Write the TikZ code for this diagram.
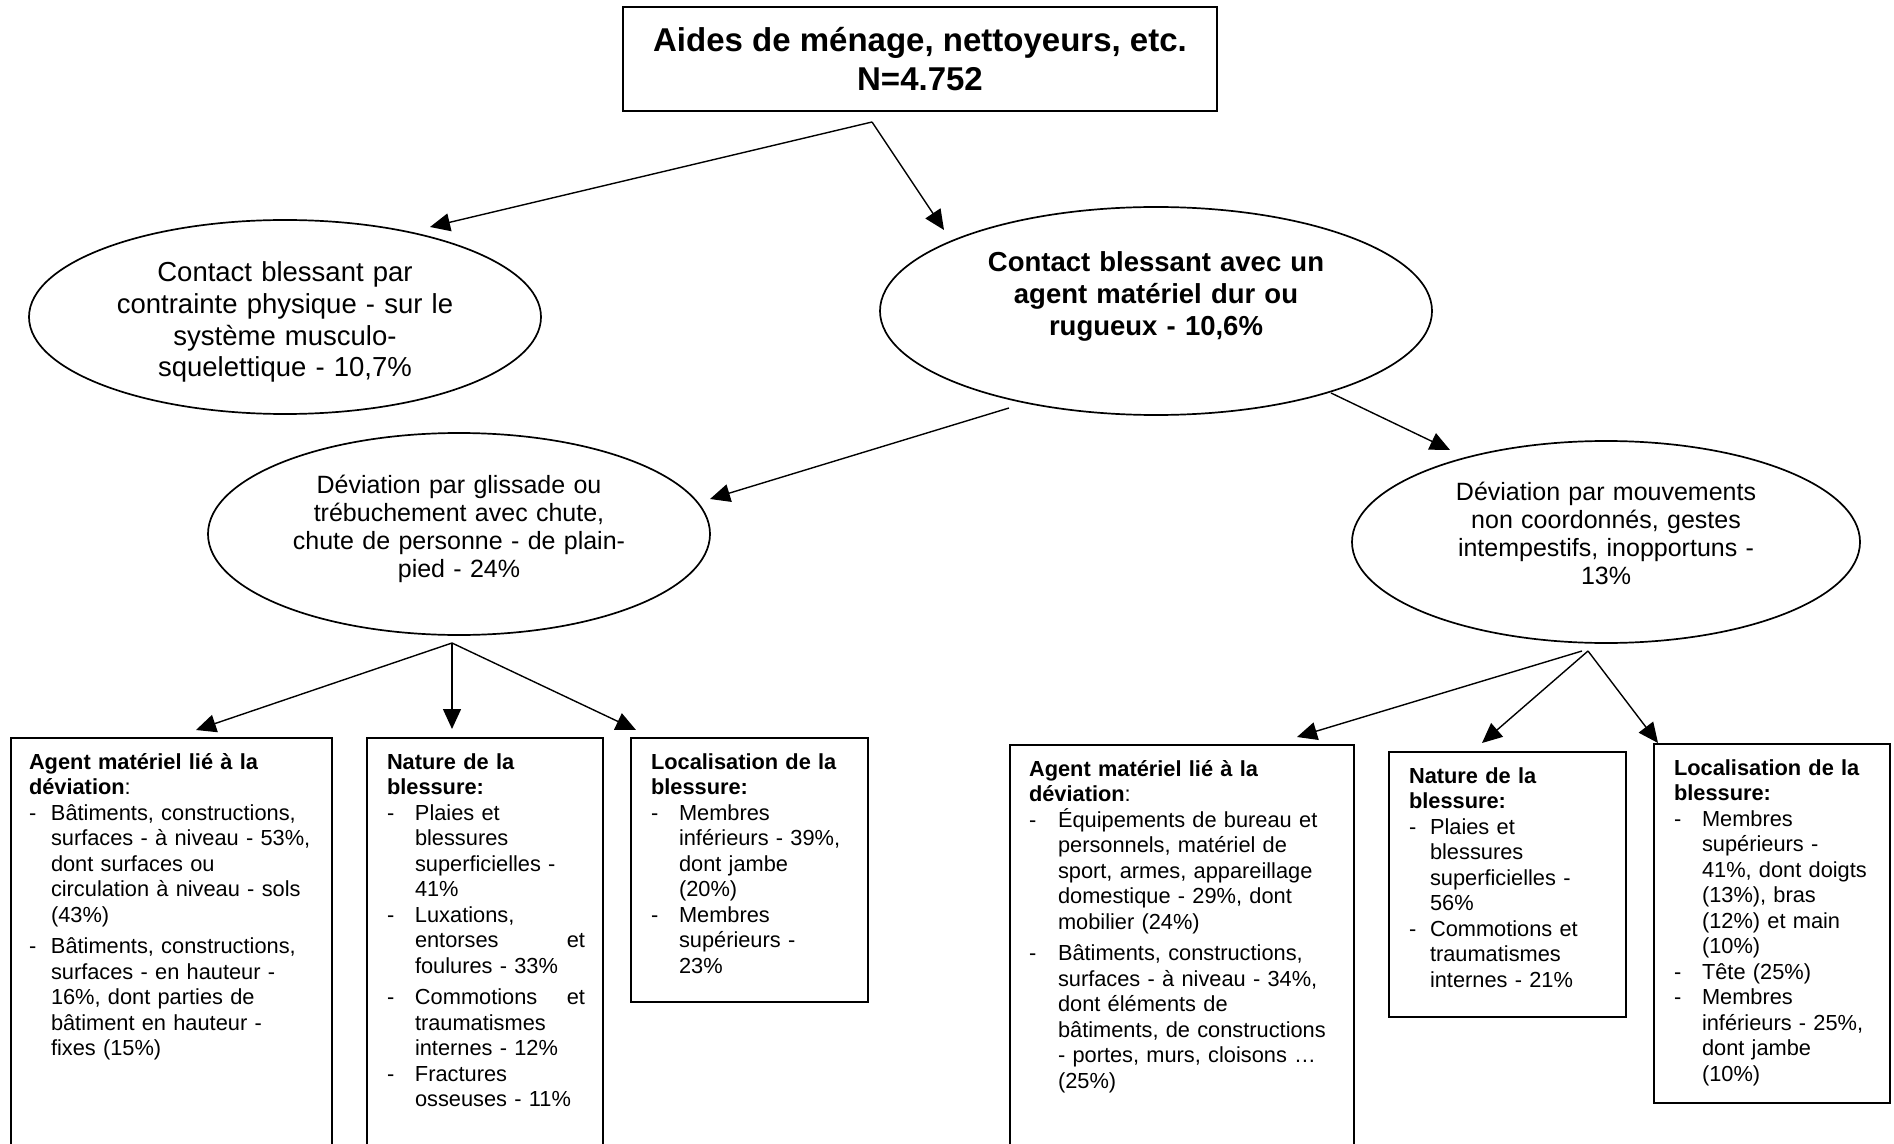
\documentclass[tikz,border=0pt]{standalone}
\usepackage{fontspec}
\setmainfont{Liberation Sans}
\usetikzlibrary{shapes.geometric,arrows.meta}
\newlength\itind
\newcommand\dl[1]{\mbox{\makebox[\itind][l]{-}#1}}
\newcommand\cl[1]{\mbox{\hspace*{\itind}#1}}
\newcommand\hd[1]{\mbox{\bfseries #1}}
\begin{document}
\begin{tikzpicture}[x=0.5pt,y=-0.5pt,
  topbox/.style={draw,line width=1pt,rectangle,inner sep=0pt,minimum width=297pt,minimum height=52pt,align=center,font=\fontsize{16.5pt}{19.3pt}\selectfont\bfseries},
  ell/.style={draw,ellipse,line width=0.85pt,inner sep=0pt},
  etxtA/.style={anchor=base,align=center,inner sep=0pt,font=\fontsize{13.75pt}{15.8pt}\selectfont},
  etxtB/.style={anchor=base,align=center,inner sep=0pt,font=\fontsize{12.5pt}{14pt}\selectfont},
  bx/.style={draw,line width=1pt,rectangle,anchor=north west,inner ysep=0pt,align=left,text height=15.5pt,font=\fontsize{10.9pt}{12.75pt}\selectfont},
  arr/.style={line width=0.7pt,-{Triangle[length=10pt,width=9pt]}}
]
\useasboundingbox (0,0) rectangle (1894,1144);
\fill[white] (0,0) rectangle (1894,1144);

% top
\node[topbox] (top) at (920,59) {Aides de ménage, nettoyeurs, etc.\\N=4.752};

% ellipses
\node[ell,minimum width=256pt,minimum height=97pt] (e1) at (285,317) {};
\node[etxtA,text width=230pt] (e1t) at (285,282) {Contact blessant par\\contrainte physique - sur le\\système musculo-\\squelettique - 10,7\%};

\node[ell,minimum width=276pt,minimum height=104pt] (e2) at (1156,311) {};
\node[etxtA,text width=240pt] (e2t) at (1156,272) {\bfseries Contact blessant avec un\\agent matériel dur ou\\rugueux - 10,6\%};

\node[ell,minimum width=251pt,minimum height=101pt] (e3) at (459,534) {};
\node[etxtB,text width=210pt] (e3t) at (459,493) {Déviation par glissade ou\\trébuchement avec chute,\\chute de personne - de plain-\\pied - 24\%};

\node[ell,minimum width=254pt,minimum height=101pt] (e4) at (1606,542) {};
\node[etxtB,text width=210pt] (e4t) at (1606,500) {Déviation par mouvements\\non coordonnés, gestes\\intempestifs, inopportuns -\\13\%};

% boxes
\node[bx,inner xsep=9pt,text width=142.5pt,text depth=191pt] (bA) at (10,737) {\setlength\itind{11pt}%
\hd{Agent matériel lié à la}\\
\mbox{\bfseries déviation}:\\
\dl{Bâtiments, constructions,}\\
\cl{surfaces - à niveau - 53\%,}\\
\cl{dont surfaces ou}\\
\cl{circulation à niveau - sols}\\
\cl{(43\%)}\\[3pt]
\dl{Bâtiments, constructions,}\\
\cl{surfaces - en hauteur -}\\
\cl{16\%, dont parties de}\\
\cl{bâtiment en hauteur -}\\
\cl{fixes (15\%)}};

\node[bx,inner xsep=10pt,text width=98pt,text depth=191pt] (bB) at (366,737) {\setlength\itind{14pt}%
\hd{Nature de la}\\
\hd{blessure:}\\
\dl{Plaies et}\\
\cl{blessures}\\
\cl{superficielles -}\\
\cl{41\%}\\
\dl{Luxations,}\\
\cl{\hbox to 85pt{entorses\hfill et}}\\
\cl{foulures - 33\%}\\[3pt]
\dl{\hbox to 85pt{Commotions\hfill et}}\\
\cl{traumatismes}\\
\cl{internes - 12\%}\\
\dl{Fractures}\\
\cl{osseuses - 11\%}};

\node[bx,inner xsep=10pt,text width=98.5pt,text depth=116.5pt] (bC) at (630,737) {\setlength\itind{14pt}%
\hd{Localisation de la}\\
\hd{blessure:}\\
\dl{Membres}\\
\cl{inférieurs - 39\%,}\\
\cl{dont jambe}\\
\cl{(20\%)}\\
\dl{Membres}\\
\cl{supérieurs -}\\
\cl{23\%}};

\node[bx,inner xsep=9.5pt,text width=153pt,text depth=187.5pt] (bD) at (1009,744) {\setlength\itind{14.5pt}%
\hd{Agent matériel lié à la}\\
\mbox{\bfseries déviation}:\\
\dl{Équipements de bureau et}\\
\cl{personnels, matériel de}\\
\cl{sport, armes, appareillage}\\
\cl{domestique - 29\%, dont}\\
\cl{mobilier (24\%)}\\[3pt]
\dl{Bâtiments, constructions,}\\
\cl{surfaces - à niveau - 34\%,}\\
\cl{dont éléments de}\\
\cl{bâtiments, de constructions}\\
\cl{- portes, murs, cloisons …}\\
\cl{(25\%)}};

\node[bx,inner xsep=10pt,text width=98.5pt,text depth=117pt] (bE) at (1388,751) {\setlength\itind{10.5pt}%
\hd{Nature de la}\\
\hd{blessure:}\\
\dl{Plaies et}\\
\cl{blessures}\\
\cl{superficielles -}\\
\cl{56\%}\\
\dl{Commotions et}\\
\cl{traumatismes}\\
\cl{internes - 21\%}};

\node[bx,inner xsep=10pt,text width=98pt,text depth=164pt] (bF) at (1653,743) {\setlength\itind{14pt}%
\hd{Localisation de la}\\
\hd{blessure:}\\
\dl{Membres}\\
\cl{supérieurs -}\\
\cl{41\%, dont doigts}\\
\cl{(13\%), bras}\\
\cl{(12\%) et main}\\
\cl{(10\%)}\\
\dl{Tête (25\%)}\\
\dl{Membres}\\
\cl{inférieurs - 25\%,}\\
\cl{dont jambe}\\
\cl{(10\%)}};

% connector points
\coordinate (t0) at (872,122);
\coordinate (t1) at (430,227);
\coordinate (t2) at (944,230);
\coordinate (s23) at (1009,408);
\coordinate (t3) at (710,499);
\coordinate (s24) at (1331,393);
\coordinate (t4) at (1450,450);
\coordinate (f3) at (452,643);
\coordinate (tA) at (196,730);
\coordinate (tB) at (452,729);
\coordinate (tC) at (636,730);
\coordinate (f4) at (1588,651);
\coordinate (f4l) at (1582,651);
\coordinate (tD) at (1297,737);
\coordinate (tE) at (1482,743);
\coordinate (tF) at (1658,743);

\draw[arr] (t0) -- (t1);
\draw[arr] (t0) -- (t2);
\draw[arr] (s23) -- (t3);
\draw[arr] (s24) -- (t4);
\draw[arr] (f3) -- (tA);
\draw[arr] (f3) -- (tB);
\draw[arr] (f3) -- (tC);
\draw[arr] (f4l) -- (tD);
\draw[arr] (f4) -- (tE);
\draw[arr] (f4) -- (tF);
\end{tikzpicture}
\end{document}
